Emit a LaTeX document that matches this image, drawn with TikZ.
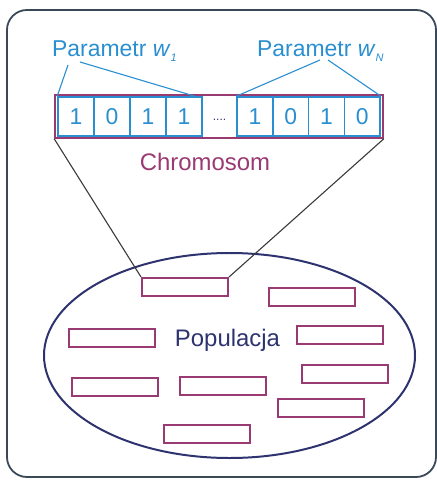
\documentclass[tikz,border=0pt]{standalone}
\usepackage{fontspec}
\setmainfont{Liberation Sans}
\definecolor{cblue}{HTML}{2A8FD0}
\definecolor{cpurple}{HTML}{9A3A72}
\definecolor{cnavy}{HTML}{2E3370}
\definecolor{cframe}{HTML}{3A4858}
\definecolor{cgray}{HTML}{3A3A3A}
\tikzset{
  cell/.style={draw=cblue, line width=1.6pt, minimum width=36pt, minimum height=39pt, inner sep=0pt, font=\fontsize{23}{23}\selectfont, text=cblue},
  indiv/.style={draw=cpurple, line width=2pt, minimum width=86pt, minimum height=18pt, inner sep=0pt},
  lbl/.style={font=\fontsize{23}{23}\selectfont, text=cblue, inner sep=0pt},
  bline/.style={draw=cblue, line width=1.1pt},
  gline/.style={draw=cgray, line width=1.1pt}
}
\begin{document}
\begin{tikzpicture}[x=1bp,y=-1bp]
\useasboundingbox (0,0) rectangle (437,480);
\fill[white] (0,0) rectangle (437,480);
\draw[cframe, line width=1.8pt, rounded corners=20pt] (7,10) rectangle (436,477);
% labels
\node[lbl, anchor=west] (lab1) at (52,51) {Parametr \textit{w}\raisebox{-0.45ex}{\fontsize{11}{11}\selectfont\textit{1}}};
\node[lbl, anchor=west] (labN) at (257,51) {Parametr \textit{w}\raisebox{-0.45ex}{\fontsize{11}{11}\selectfont\textit{N}}};
\coordinate (l1a) at (68,65);
\coordinate (l1b) at (80,62);
\coordinate (lNa) at (320,60);
\coordinate (lNb) at (328,60);
% chromosome
\node[draw=cpurple, line width=1.6pt, minimum width=328bp, minimum height=43bp, inner sep=0pt] (chrom) at (219,116.5) {};
\node[cell, minimum width=36bp, minimum height=39bp] (c1) at (76,116.5) {1};
\node[cell, minimum width=36bp, minimum height=39bp] (c2) at (112,116.5) {0};
\node[cell, minimum width=36bp, minimum height=39bp] (c3) at (148,116.5) {1};
\node[cell, minimum width=36bp, minimum height=39bp] (c4) at (184,116.5) {1};
\node[cell, minimum width=35.75bp, minimum height=39bp] (c5) at (255,116.5) {1};
\node[cell, minimum width=35.75bp, minimum height=39bp] (c6) at (290.75,116.5) {0};
\node[cell, minimum width=35.75bp, minimum height=39bp] (c7) at (326.5,116.5) {1};
\node[cell, minimum width=35.75bp, minimum height=39bp] (c8) at (362.25,116.5) {0};
\node[font=\fontsize{12}{12}\selectfont, text=cnavy, inner sep=0pt] (dots) at (219.5,120) {....};
\draw[bline] (l1a) -- (c1.north west);
\draw[bline] (l1b) -- ([xshift=-8bp]c4.north east);
\draw[bline] (lNa) -- (c5.north west);
\draw[bline] (lNb) -- (c8.north east);
\node[font=\fontsize{24}{24}\selectfont, text=cpurple, inner sep=0pt] (chromlbl) at (205,162) {Chromosom};
% population
\draw[cnavy, line width=2pt] (229.5,355.5) ellipse (185.5bp and 102.5bp);
\node[font=\fontsize{24}{24}\selectfont, text=cnavy, inner sep=0pt] (pop) at (227.5,340) {Populacja};
\node[indiv, minimum width=86bp, minimum height=18bp] (r1) at (185,287) {};
\node[indiv, minimum width=86bp, minimum height=18bp] (r2) at (312,297) {};
\node[indiv, minimum width=86bp, minimum height=18bp] (r3) at (112,338) {};
\node[indiv, minimum width=86bp, minimum height=18bp] (r4) at (340,335) {};
\node[indiv, minimum width=86bp, minimum height=18bp] (r5) at (345,374) {};
\node[indiv, minimum width=86bp, minimum height=18bp] (r6) at (115,387) {};
\node[indiv, minimum width=86bp, minimum height=18bp] (r7) at (223,386) {};
\node[indiv, minimum width=86bp, minimum height=18bp] (r8) at (321,408) {};
\node[indiv, minimum width=86bp, minimum height=18bp] (r9) at (207,434) {};
\draw[gline] (chrom.south west) -- (r1.north west);
\draw[gline] (chrom.south east) -- (r1.north east);
\end{tikzpicture}
\end{document}
